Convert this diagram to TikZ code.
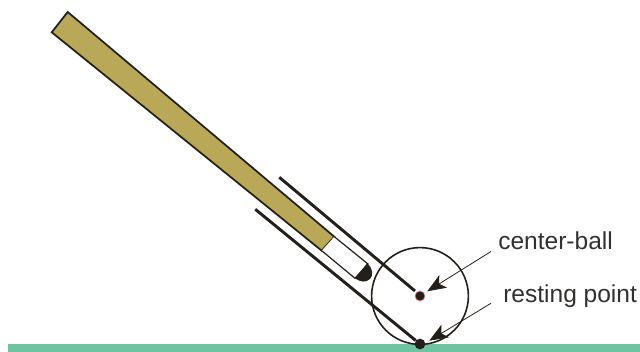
\documentclass[tikz,border=0pt]{standalone}
\usepackage{fontspec}
\setmainfont{Liberation Sans}
\usetikzlibrary{arrows.meta}
\definecolor{stick}{RGB}{184,168,88}
\definecolor{ground}{RGB}{108,196,160}
\definecolor{ink}{RGB}{35,31,26}
\definecolor{labelink}{RGB}{50,48,46}
\definecolor{pinkring}{RGB}{240,140,140}
\tikzset{
  x=0.75pt,y=-0.75pt,
  stickbody/.style={draw=ink,fill=stick,line width=1.3pt,line join=miter},
  ferrule/.style={draw=ink,fill=white,line width=0.9pt},
  rail/.style={draw=ink,line width=2.2pt},
  ball/.style={draw=ink,line width=1.2pt,circle,minimum size=72.6pt,inner sep=0pt},
  dotnode/.style={circle,fill=ink,minimum size=7.5pt,inner sep=0pt},
  pointer/.style={draw=ink,line width=0.6pt,-{Stealth[length=14pt,width=11pt,inset=3.5pt]}},
  lbl/.style={text=labelink,anchor=base west,inner sep=0pt,font=\fontsize{18.4}{22}\selectfont}
}
\begin{document}
\begin{tikzpicture}
\useasboundingbox (0,0) rectangle (640,352);
\fill[ground] (8,344) rectangle (640,352);
% stick
\draw[stickbody] (67.7,12) -- (51.7,32.3) -- (321.7,250.7) -- (334.3,236.7) -- cycle;
% ferrule
\draw[ferrule] (334.3,236.7) -- (368,264) -- (355,278.3) -- (321.7,250.7);
% tip
\fill[ink] (367,263.5) .. controls (374,269) and (373,276) .. (370,279) .. controls (366,283) and (360,282) .. (355,278.3) -- cycle;
% ball and points
\node[ball] (b) at (420,296) {};
\node[dotnode,draw=pinkring,line width=0.5pt] (c) at (420,296) {};
\node[dotnode,minimum size=8pt] (r) at (420,344) {};
\coordinate (u1) at (279.3,177.3);
\coordinate (u2) at (415,291);
\coordinate (l1) at (255.3,209.3);
\draw[rail] (u1) -- (u2);
\draw[rail] (l1) -- (r);
% labels
\node[lbl] (t1) at (498,250) {center-ball};
\node[lbl] (t2) at (503,302.3) {resting point};
\coordinate (p1) at (491,251.5);
\coordinate (p2) at (491,303.3);
\coordinate (a1) at (427.3,291.3);
\coordinate (a2) at (429.3,340.7);
\draw[pointer] (p1) -- (a1);
\draw[pointer] (p2) -- (a2);
\end{tikzpicture}
\end{document}
